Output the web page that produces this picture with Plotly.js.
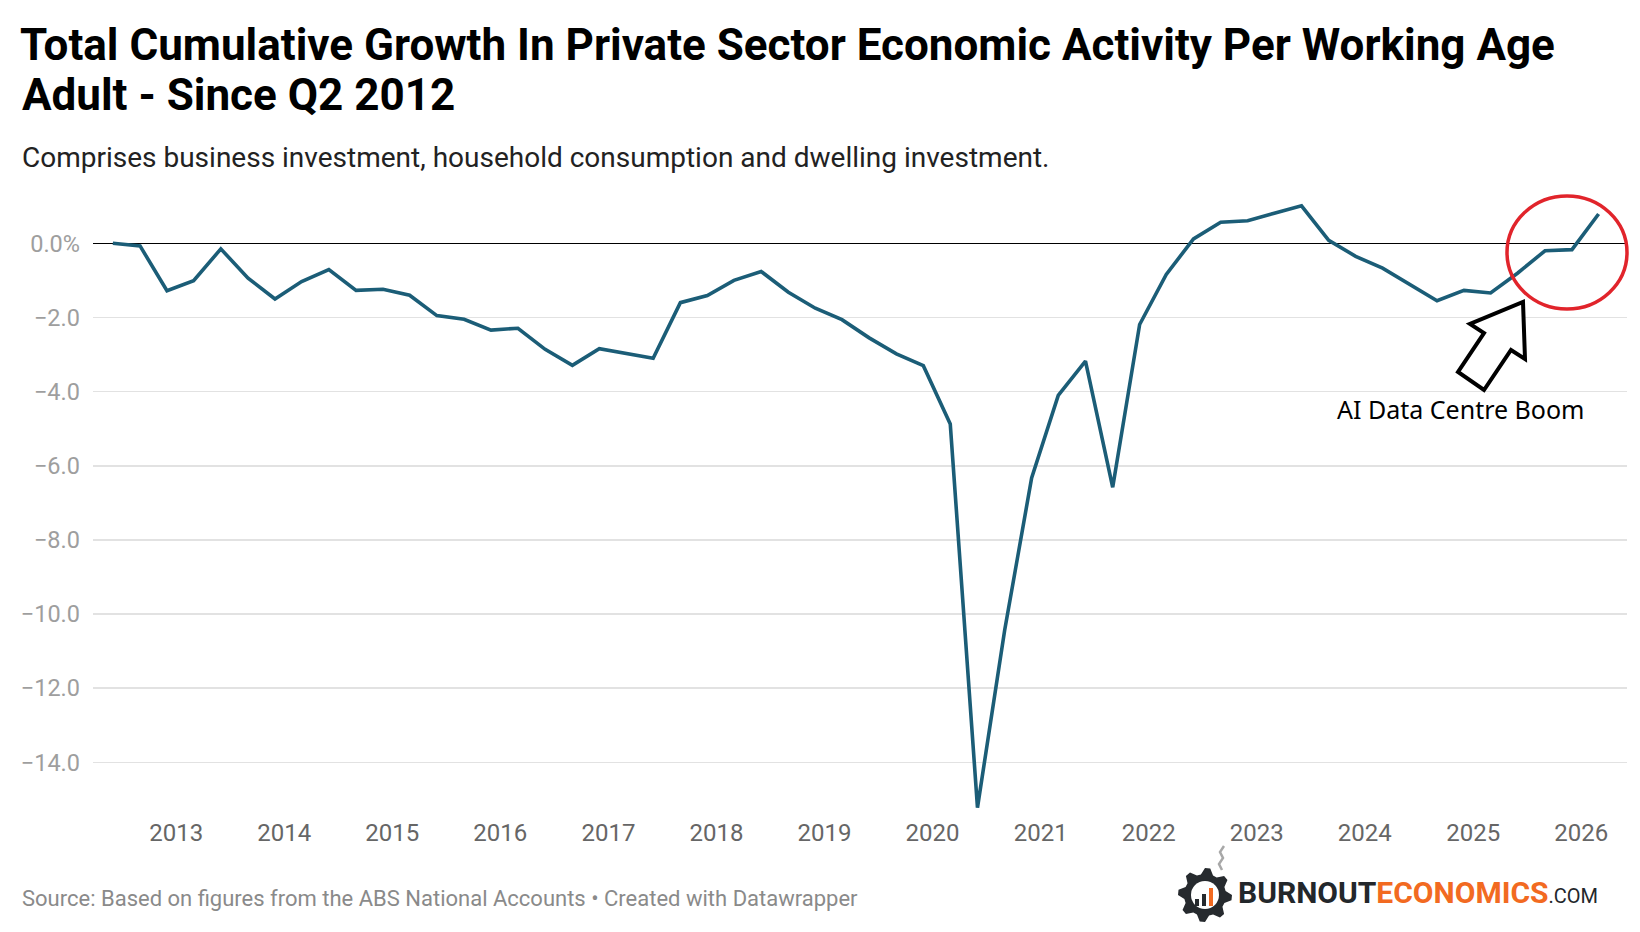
<!DOCTYPE html>
<html><head><meta charset="utf-8">
<script src="https://cdn.plot.ly/plotly-3.0.1.min.js"></script>
<style>html,body{margin:0;padding:0;background:#fff}#chart{width:1640px;height:932px}</style>
</head><body><div id="chart"></div>
<script>
const quarters = [
 '2012 Q2','2012 Q3','2012 Q4',
 '2013 Q1','2013 Q2','2013 Q3','2013 Q4',
 '2014 Q1','2014 Q2','2014 Q3','2014 Q4',
 '2015 Q1','2015 Q2','2015 Q3','2015 Q4',
 '2016 Q1','2016 Q2','2016 Q3','2016 Q4',
 '2017 Q1','2017 Q2','2017 Q3','2017 Q4',
 '2018 Q1','2018 Q2','2018 Q3','2018 Q4',
 '2019 Q1','2019 Q2','2019 Q3','2019 Q4',
 '2020 Q1','2020 Q2','2020 Q3','2020 Q4',
 '2021 Q1','2021 Q2','2021 Q3','2021 Q4',
 '2022 Q1','2022 Q2','2022 Q3','2022 Q4',
 '2023 Q1','2023 Q2','2023 Q3','2023 Q4',
 '2024 Q1','2024 Q2','2024 Q3','2024 Q4',
 '2025 Q1','2025 Q2','2025 Q3','2025 Q4',
 '2026 Q1'
];
const growth = [
 0.0, -0.07, -1.28,
 -1.01, -0.15, -0.94, -1.50,
 -1.03, -0.71, -1.27, -1.24,
 -1.40, -1.95, -2.05, -2.34,
 -2.29, -2.86, -3.29, -2.84,
 -2.97, -3.10, -1.60, -1.41,
 -1.00, -0.76, -1.32, -1.75,
 -2.06, -2.55, -2.98, -3.30,
 -4.87, -15.22, -10.43, -6.33,
 -4.10, -3.18, -6.58, -2.19,
 -0.84, 0.12, 0.57, 0.61,
 0.81, 1.01, 0.08, -0.35,
 -0.67, -1.10, -1.55, -1.27,
 -1.34, -0.80, -0.20, -0.17,
 0.79
];
const yTickValues = [0, -2, -4, -6, -8, -10, -12, -14];
const yTickLabels = ['0.0%', '\u22122.0', '\u22124.0', '\u22126.0', '\u22128.0', '\u221210.0', '\u221212.0', '\u221214.0'];
const xTickYears = ['2013','2014','2015','2016','2017','2018','2019','2020','2021','2022','2023','2024','2025','2026'];

const titleLine1 = 'Total Cumulative Growth In Private Sector Economic Activity Per Working Age';
const titleLine2 = 'Adult - Since Q2 2012';
const subtitleText = 'Comprises business investment, household consumption and dwelling investment.';
const sourceText = 'Source: Based on figures from the ABS National Accounts \u2022 Created with Datawrapper';
const calloutText = 'AI Data Centre Boom';

function quarterToDate(q) {
  const parts = q.split(' Q');
  const month = ['03', '06', '09', '12'][Number(parts[1]) - 1];
  return parts[0] + '-' + month + '-01';
}

// layout geometry (pixels)
const W = 1640, H = 932;
const M = {l: 93, r: 13, t: 184, b: 114};
const plotW = W - M.l - M.r, plotH = H - M.t - M.b;
const px = v => (v - M.l) / plotW;
const py = v => (H - M.b - v) / plotH;

// decorative gear for the logo
function gearPath(cx, cy, rOut, rIn, teeth) {
  let d = '';
  const n = teeth * 4;
  for (let i = 0; i < n; i++) {
    const a = (i / n) * 2 * Math.PI;
    const r = (i % 4 < 2) ? rOut : rIn;
    const x = px(cx + r * Math.cos(a));
    const y = py(cy + r * Math.sin(a));
    d += (i === 0 ? 'M' : 'L') + x + ',' + y + ' ';
  }
  return d + 'Z';
}
function polyPath(pts, close) {
  return pts.map((p, i) => (i === 0 ? 'M' : 'L') + px(p[0]) + ',' + py(p[1])).join(' ') + (close ? ' Z' : '');
}

const arrowPts = [[1523, 302], [1525, 359], [1511, 350], [1484, 390], [1458, 372], [1484, 333], [1470, 324]];
const smokePts = [[1222, 870], [1219, 864], [1223, 858], [1220, 852], [1224, 846]];

const gx = 1205, gy = 895;

const trace = {
  x: quarters.map(quarterToDate),
  y: growth,
  type: 'scatter',
  mode: 'lines',
  line: {color: '#1b5d77', width: 3.6},
  hoverinfo: 'x+y'
};

const layout = {
  width: W, height: H,
  margin: M,
  paper_bgcolor: '#ffffff',
  plot_bgcolor: '#ffffff',
  showlegend: false,
  font: {family: 'Roboto, sans-serif'},
  title: {
    text: titleLine1,
    font: {family: 'Roboto', size: 44, color: '#000000', weight: 700},
    xref: 'container', yref: 'container',
    x: 20 / W, xanchor: 'left',
    y: 1 - 45 / H, yanchor: 'middle'
  },
  xaxis: {
    type: 'date',
    range: ['2012-03-26', '2026-06-05'],
    tickvals: xTickYears.map(y => y + '-01-01'),
    ticktext: xTickYears,
    showgrid: false, zeroline: false, showline: false, ticks: '',
    ticklabelstandoff: -2,
    tickfont: {family: 'Roboto', size: 24, color: '#666666'},
    fixedrange: true
  },
  yaxis: {
    range: [-15.5, 1.6],
    tickvals: yTickValues,
    ticktext: yTickLabels,
    showgrid: true, gridcolor: '#e2e2e2', gridwidth: 1.5,
    zeroline: true, zerolinecolor: '#000000', zerolinewidth: 1.6,
    showline: false, ticks: '',
    ticklabelstandoff: 12,
    tickfont: {family: 'Roboto', size: 23.5, color: '#9e9e9e'},
    fixedrange: true
  },
  shapes: [
    {type: 'circle', xref: 'paper', yref: 'paper', x0: px(1507), x1: px(1627), y0: py(309), y1: py(196),
     line: {color: '#e1242b', width: 3.5}},
    {type: 'path', xref: 'paper', yref: 'paper', path: polyPath(arrowPts, true),
     line: {color: '#000000', width: 4}, fillcolor: '#ffffff'},
    {type: 'path', xref: 'paper', yref: 'paper', path: gearPath(gx, gy, 27, 21, 8),
     line: {width: 0}, fillcolor: '#262a2e'},
    {type: 'circle', xref: 'paper', yref: 'paper', x0: px(gx - 14), x1: px(gx + 14), y0: py(gy + 14), y1: py(gy - 14),
     line: {width: 0}, fillcolor: '#ffffff'},
    {type: 'rect', xref: 'paper', yref: 'paper', x0: px(gx - 10), x1: px(gx - 6), y0: py(gy + 11), y1: py(gy + 4), line: {width: 0}, fillcolor: '#262a2e'},
    {type: 'rect', xref: 'paper', yref: 'paper', x0: px(gx - 3), x1: px(gx + 1), y0: py(gy + 11), y1: py(gy - 1), line: {width: 0}, fillcolor: '#262a2e'},
    {type: 'rect', xref: 'paper', yref: 'paper', x0: px(gx + 4), x1: px(gx + 8), y0: py(gy + 11), y1: py(gy - 7), line: {width: 0}, fillcolor: '#f26a21'},
    {type: 'path', xref: 'paper', yref: 'paper', path: polyPath(smokePts, false),
     line: {color: '#a8a8a8', width: 2.5}}
  ],
  annotations: [
    {text: titleLine2, xref: 'paper', yref: 'paper', x: px(20), y: py(95), xanchor: 'left', yanchor: 'middle',
     showarrow: false, font: {family: 'Roboto', size: 44, color: '#000000', weight: 700}},
    {text: subtitleText, xref: 'paper', yref: 'paper', x: px(20), y: py(157), xanchor: 'left', yanchor: 'middle',
     showarrow: false, font: {family: 'Roboto', size: 28, color: '#222222'}},
    {text: sourceText, xref: 'paper', yref: 'paper', x: px(20), y: py(898), xanchor: 'left', yanchor: 'middle',
     showarrow: false, font: {family: 'Roboto', size: 22, color: '#8a8a8a'}},
    {text: calloutText, xref: 'paper', yref: 'paper', x: px(1460), y: py(409), xanchor: 'center', yanchor: 'middle',
     showarrow: false, font: {family: 'Noto Sans', size: 25, color: '#000000'}},
    {text: '<b>BURNOUT<span style="color:#f26a21">ECONOMICS</span></b><span style="font-size:20px">.COM</span>',
     xref: 'paper', yref: 'paper', x: px(1236), y: py(892), xanchor: 'left', yanchor: 'middle',
     showarrow: false, font: {family: 'Roboto', size: 30, color: '#23272b'}}
  ]
};

Plotly.newPlot('chart', [trace], layout, {displayModeBar: false, staticPlot: true});
</script>
</body></html>
